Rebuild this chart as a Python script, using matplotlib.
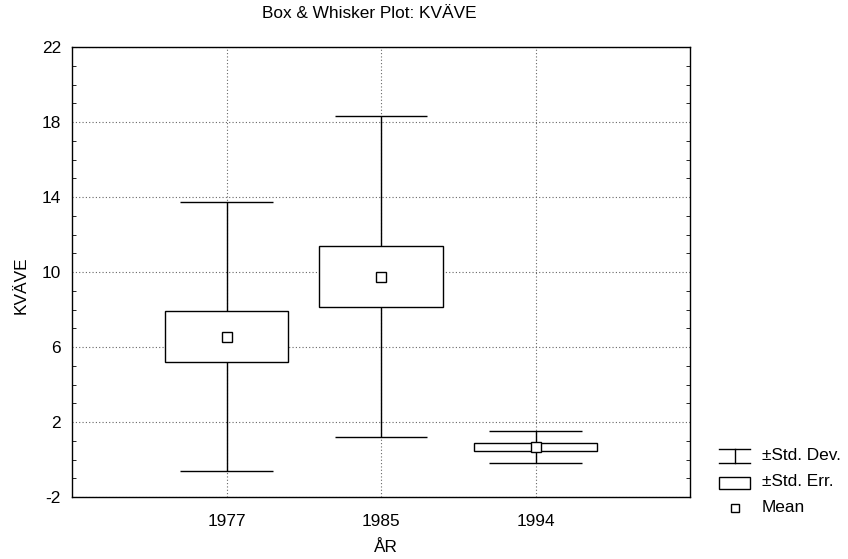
import numpy as np
import matplotlib.pyplot as plt
from matplotlib.patches import Rectangle
from matplotlib.lines import Line2D
from matplotlib.ticker import MultipleLocator

plt.rcParams['font.family'] = ['Liberation Sans', 'DejaVu Sans']
plt.rcParams['font.size'] = 12.4
plt.rcParams['axes.unicode_minus'] = False

# Summary stats of KVÄVE per year
years = ['1977', '1985', '1994']
means = [6.55, 9.76, 0.66]
std_err = [1.35, 1.63, 0.20]
std_dev = [7.17, 8.56, 0.86]
y_ticks = [-2, 2, 6, 10, 14, 18, 22]

pos = np.arange(1, len(years) + 1)
means = np.array(means)
std_err = np.array(std_err)
std_dev = np.array(std_dev)

fig = plt.figure(figsize=(8.48, 5.59), dpi=100)
ax = fig.add_axes([72 / 848, 62 / 559, 618 / 848, 450 / 559])

grid_kw = dict(color='#666666', linestyle=(0, (1, 2)), linewidth=0.8, zorder=0)
ax.grid(True, which='major', **grid_kw)

# whiskers: mean +- std dev
ax.vlines(pos, means - std_dev, means + std_dev, color='black', linewidth=1, zorder=2)
ax.hlines(means + std_dev, pos - 0.3, pos + 0.3, color='black', linewidth=1, zorder=2)
ax.hlines(means - std_dev, pos - 0.3, pos + 0.3, color='black', linewidth=1, zorder=2)

# boxes: mean +- std err
ax.bar(pos, 2 * std_err, bottom=means - std_err, width=0.8, color='white',
       edgecolor='black', linewidth=1, zorder=3)

# mean markers
ax.plot(pos, means, linestyle='none', marker='s', markersize=6.5,
        markerfacecolor='white', markeredgecolor='black', markeredgewidth=1, zorder=4)

ax.set_xlim(0, 4)
ax.set_ylim(-2, 22)
ax.set_xticks(pos)
ax.set_xticklabels(years)
ax.set_yticks(y_ticks)
ax.yaxis.set_minor_locator(MultipleLocator(1))
ax.tick_params(axis='x', length=0, pad=12)
ax.tick_params(axis='y', which='major', length=0, pad=8)
ax.tick_params(axis='y', which='minor', direction='in', length=3, left=True, right=True)
for sp in ax.spines.values():
    sp.set_linewidth(1)

ax.set_xlabel('ÅR')
ax.xaxis.set_label_coords(0.508, -0.095)
ax.set_ylabel('KVÄVE')
ax.yaxis.set_label_coords(-0.07, 0.471)

fig.text(369 / 848, 1 - 14 / 559, 'Box & Whisker Plot: KVÄVE', ha='center', va='center')

# legend drawn in pixel coordinates at the right side
lg = fig.add_axes([0, 0, 1, 1], facecolor='none')
lg.set_xlim(0, 848)
lg.set_ylim(559, 0)
lg.axis('off')
lg.add_line(Line2D([719, 750], [449, 449], color='black', linewidth=1))
lg.add_line(Line2D([719, 750], [463, 463], color='black', linewidth=1))
lg.add_line(Line2D([735, 735], [449, 463], color='black', linewidth=1))
lg.add_patch(Rectangle((719, 476.5), 31, 12, facecolor='white', edgecolor='black', linewidth=1))
lg.plot([735], [508], linestyle='none', marker='s', markersize=6,
        markerfacecolor='white', markeredgecolor='black', markeredgewidth=1)
lg.text(762, 456, '±Std. Dev.', va='center', ha='left')
lg.text(762, 482, '±Std. Err.', va='center', ha='left')
lg.text(762, 508, 'Mean', va='center', ha='left')

fig.savefig('out.png', dpi=100)
